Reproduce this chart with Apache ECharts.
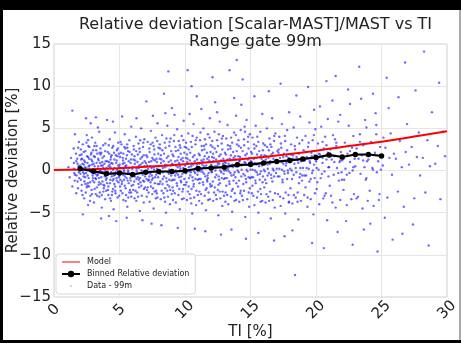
<!DOCTYPE html>
<html>
<head>
<meta charset="utf-8">
<script src="https://cdn.jsdelivr.net/npm/echarts@6/dist/echarts.min.js"></script>
<style>
html,body{margin:0;padding:0;background:#000;width:461px;height:343px;overflow:hidden;}
#c{position:absolute;left:3px;top:10px;width:456px;height:330px;background:#fff;border-right:2px solid #aaa;}
</style>
</head>
<body>
<div id="c"></div>
<script>
var titleText = "Relative deviation [Scalar-MAST]/MAST vs TI\nRange gate 99m";
var xName = "TI [%]";
var yName = "Relative deviation [%]";
var xTicks = [0, 5, 10, 15, 20, 25, 30];
var yTicks = [-15, -10, -5, 0, 5, 10, 15];

var binnedX = [2,3,4,5,6,7,8,9,10,11,12,13,14,15,16,17,18,19,20,21,22,23,24,25];
var binnedY = [0.2,-0.08,-0.4,-0.3,-0.47,-0.2,-0.12,-0.12,-0.04,0.24,0.3,0.4,0.67,0.7,0.9,1.06,1.2,1.37,1.53,1.85,1.6,1.9,1.9,1.73];

var modelX = [0,2,4,6,8,10,12,14,16,18,20,22,24,26,28,30];
var modelY = [0.05,0.11,0.2,0.35,0.52,0.75,1.0,1.3,1.6,1.95,2.35,2.8,3.2,3.65,4.15,4.65];

var scatterPts = [
[1.1,0.4],[1.2,-0.8],[1.3,1.5],[1.4,-1.9],[1.5,0.2],[1.5,2.6],[1.6,-0.5],[1.7,1.1],[1.7,-2.7],[1.8,0.8],[1.8,-1.3],[1.9,3.4],[1.9,-0.2],[1.4,7.1],[1.6,4.3],
[2.0,0.6],[2.05,-1.1],[2.1,1.9],[2.1,-2.4],[2.15,0.1],[2.2,3.1],[2.25,-0.7],[2.3,1.2],[2.3,-3.3],[2.35,0.4],[2.4,-1.6],[2.4,2.3],[2.45,-0.3],[2.5,4.2],[2.5,-2.0],[2.55,0.9],[2.6,-4.1],[2.6,1.6],[2.65,-0.9],[2.7,0.2],[2.7,2.8],[2.75,-1.4],[2.8,5.6],[2.8,-0.1],[2.85,1.3],[2.9,-2.8],[2.9,0.7],[2.95,-0.6],[2.2,-5.2],[2.45,6.2],[2.6,3.6],[2.75,-3.6],[2.3,-0.4],[2.55,-1.8],[2.85,2.1],[2.95,-1.2],[2.15,1.4],[2.65,0.5],[2.05,2.5],[2.9,3.9],
[3.0,-0.3],[3.05,1.7],[3.1,-2.2],[3.1,0.5],[3.15,3.3],[3.2,-1.0],[3.25,0.9],[3.3,-3.0],[3.3,2.0],[3.35,-0.5],[3.4,1.2],[3.4,-1.7],[3.45,4.6],[3.5,0.0],[3.5,-2.6],[3.55,2.6],[3.6,-0.8],[3.6,0.6],[3.65,-4.4],[3.7,1.5],[3.7,-1.3],[3.75,3.0],[3.8,-0.2],[3.8,-2.1],[3.85,0.8],[3.9,2.3],[3.9,-3.4],[3.95,-0.6],[3.2,6.3],[3.6,-5.7],[3.35,5.1],[3.05,-3.8],[3.45,-1.4],[3.75,0.3],[3.15,-0.9],[3.55,1.9],[3.85,-1.8],[3.25,2.9],[3.95,1.1],[3.65,-2.9],
[4.0,0.3],[4.05,-1.5],[4.1,2.2],[4.1,-0.4],[4.15,-2.9],[4.2,1.0],[4.25,3.7],[4.3,-1.1],[4.3,0.4],[4.35,-3.6],[4.4,1.8],[4.4,-0.7],[4.45,2.7],[4.5,-2.2],[4.5,0.1],[4.55,-4.6],[4.6,1.3],[4.6,-1.6],[4.65,4.5],[4.7,-0.2],[4.7,-2.7],[4.75,0.9],[4.8,2.4],[4.8,-1.2],[4.85,-3.2],[4.9,0.6],[4.9,3.3],[4.95,-0.8],[4.2,-5.4],[4.5,5.8],[4.75,-6.0],[4.05,6.0],[4.35,1.6],[4.65,-0.5],[4.85,1.7],[4.15,-1.9],[4.45,-2.5],[4.95,2.0],[4.25,0.7],[4.55,-1.0],
[5.0,-0.6],[5.05,1.6],[5.1,-2.4],[5.1,0.3],[5.15,3.1],[5.2,-1.3],[5.25,0.8],[5.3,-3.5],[5.3,2.0],[5.35,-0.1],[5.4,4.3],[5.4,-1.8],[5.45,0.5],[5.5,-2.9],[5.5,1.4],[5.55,-0.9],[5.6,2.7],[5.6,-4.3],[5.65,0.0],[5.7,1.1],[5.7,-1.5],[5.75,3.6],[5.8,-0.4],[5.8,-2.3],[5.85,0.9],[5.9,5.2],[5.9,-3.1],[5.95,1.9],[5.2,6.4],[5.55,-5.6],[5.35,-1.1],[5.65,2.3],[5.95,-0.7],[5.05,-1.9],[5.45,2.6],[5.75,-2.6],[5.25,1.5],[5.85,-1.2],
[6.0,0.4],[6.05,-1.7],[6.1,2.5],[6.1,-0.5],[6.15,-3.3],[6.2,1.2],[6.25,4.0],[6.3,-1.0],[6.3,0.2],[6.35,-2.6],[6.4,1.9],[6.4,-0.8],[6.45,3.2],[6.5,-2.0],[6.5,0.6],[6.55,-4.8],[6.6,1.4],[6.6,-1.4],[6.65,5.0],[6.7,-0.3],[6.7,-3.0],[6.75,0.9],[6.8,2.8],[6.8,-1.2],[6.85,-3.8],[6.9,0.5],[6.9,3.7],[6.95,-0.7],[6.3,6.2],[6.75,-5.9],[6.45,-1.6],[6.15,1.7],[6.85,1.8],[6.55,2.2],[6.05,-2.3],[6.95,-2.0],
[7.0,-0.2],[7.05,1.8],[7.1,-2.3],[7.1,0.6],[7.15,3.4],[7.2,-1.2],[7.25,1.0],[7.3,-3.7],[7.3,2.2],[7.35,-0.4],[7.4,4.7],[7.4,-1.9],[7.45,0.3],[7.5,-2.8],[7.5,1.5],[7.55,-0.9],[7.6,2.9],[7.6,-4.5],[7.65,0.1],[7.7,1.2],[7.7,-1.5],[7.75,3.9],[7.8,-0.5],[7.8,-2.4],[7.85,1.0],[7.9,5.6],[7.9,-3.2],[7.95,2.0],[7.05,8.2],[7.45,-6.3],[7.25,-1.1],[7.65,2.5],[7.95,-0.8],[7.15,-2.0],[7.55,6.5],[7.85,-2.7],
[8.0,0.5],[8.05,-1.6],[8.1,2.6],[8.1,-0.4],[8.15,-3.4],[8.2,1.3],[8.25,4.2],[8.3,-1.0],[8.3,0.3],[8.35,-2.7],[8.4,2.0],[8.4,-0.7],[8.45,3.3],[8.5,-2.1],[8.5,0.7],[8.55,-5.0],[8.6,1.5],[8.6,-1.3],[8.65,5.3],[8.7,-0.2],[8.7,-3.1],[8.75,1.0],[8.8,2.9],[8.8,-1.1],[8.85,-4.0],[8.9,0.6],[8.9,3.8],[8.95,-0.6],[8.4,9.1],[8.73,11.75],[8.2,-6.5],[8.5,6.8],[8.8,-1.9],[8.15,1.8],[8.65,-2.4],[8.95,2.3],
[9.0,7.4],[9.05,1.9],[9.1,-2.4],[9.1,0.7],[9.15,3.5],[9.2,-1.1],[9.25,1.1],[9.3,-3.8],[9.3,2.3],[9.35,-0.3],[9.4,4.9],[9.4,-1.8],[9.45,0.4],[9.5,-2.9],[9.5,1.6],[9.55,-0.8],[9.6,3.0],[9.6,-4.6],[9.65,0.2],[9.7,1.3],[9.7,-1.4],[9.75,4.1],[9.8,-0.4],[9.8,-2.5],[9.85,1.1],[9.9,5.9],[9.9,-3.3],[9.95,2.1],[9.2,6.6],[9.45,-6.8],[9.25,-0.6],[9.65,2.7],[9.95,-1.0],[9.05,-2.0],[9.55,0.9],[9.85,-2.2],
[10.0,0.6],[10.05,-1.7],[10.1,2.7],[10.1,-0.3],[10.15,-3.5],[10.2,1.4],[10.25,4.4],[10.3,-0.9],[10.3,0.4],[10.35,-2.8],[10.4,2.1],[10.4,-0.6],[10.45,3.4],[10.5,-2.2],[10.5,0.8],[10.55,-5.1],[10.6,1.6],[10.6,-1.2],[10.65,5.5],[10.7,-0.1],[10.7,-3.2],[10.75,1.1],[10.8,3.1],[10.8,-1.0],[10.85,-4.1],[10.9,0.7],[10.9,3.9],[10.95,-0.5],[10.2,11.9],[10.5,10.0],[10.9,8.8],[10.35,6.7],[10.75,-6.9],[10.15,1.9],[10.65,-1.9],[10.45,-0.2],
[11.0,-0.1],[11.05,2.0],[11.1,-2.5],[11.1,0.8],[11.15,3.6],[11.2,-1.0],[11.25,1.2],[11.3,-3.9],[11.3,2.4],[11.35,-0.2],[11.4,5.0],[11.4,-1.7],[11.45,0.5],[11.5,-3.0],[11.5,1.7],[11.55,-0.7],[11.6,3.1],[11.6,-4.7],[11.65,0.3],[11.7,1.4],[11.7,-1.3],[11.75,4.3],[11.8,-0.3],[11.8,-2.6],[11.85,1.2],[11.9,6.2],[11.9,-3.4],[11.95,2.2],[11.25,7.3],[11.55,-7.2],[11.1,-1.5],[11.45,2.9],[11.75,-0.9],[11.95,-1.9],[11.35,1.0],[11.65,-2.1],
[12.0,0.7],[12.05,-1.8],[12.1,11.05],[12.1,2.8],[12.15,-3.6],[12.2,1.5],[12.25,4.6],[12.3,-0.8],[12.3,0.5],[12.35,-2.9],[12.4,2.2],[12.4,-0.5],[12.45,3.6],[12.5,-2.3],[12.5,0.9],[12.55,-5.3],[12.6,1.7],[12.6,-1.1],[12.65,5.8],[12.7,0.0],[12.7,-3.3],[12.75,1.2],[12.8,3.2],[12.8,-0.9],[12.85,-4.2],[12.9,0.8],[12.9,4.1],[12.95,-0.4],[12.3,8.1],[12.75,-7.6],[12.45,6.9],[12.15,2.0],[12.55,-1.7],[12.85,2.5],[12.05,-0.2],[12.65,-2.5],
[13.0,0.0],[13.05,2.1],[13.1,-2.6],[13.1,0.9],[13.15,3.8],[13.2,-0.9],[13.25,1.3],[13.3,-4.0],[13.3,2.5],[13.35,-0.1],[13.4,11.9],[13.4,-1.6],[13.45,0.6],[13.5,-3.1],[13.5,1.8],[13.55,-0.6],[13.6,3.3],[13.6,-4.9],[13.65,0.4],[13.7,1.5],[13.7,-1.2],[13.75,4.5],[13.8,-0.2],[13.8,-2.7],[13.85,1.3],[13.9,6.5],[13.9,-3.5],[13.95,13.1],[13.95,2.3],[13.25,5.4],[13.55,-7.0],[13.75,8.6],[13.15,-1.8],[13.45,2.9],[13.65,-2.2],[13.85,-0.8],
[14.0,0.8],[14.05,-1.9],[14.1,2.9],[14.1,-0.2],[14.15,-3.7],[14.2,1.6],[14.25,4.8],[14.3,-0.7],[14.3,0.6],[14.35,-3.0],[14.4,10.8],[14.4,2.3],[14.45,-0.4],[14.5,3.7],[14.5,-2.4],[14.55,1.0],[14.6,-5.5],[14.6,1.8],[14.65,-1.0],[14.7,6.0],[14.7,0.1],[14.75,-3.4],[14.8,1.3],[14.8,3.4],[14.85,-0.8],[14.9,-4.3],[14.9,0.9],[14.95,4.3],[14.3,7.8],[14.65,-8.1],[14.55,5.2],[14.15,1.1],[14.45,-1.6],[14.85,2.6],[14.95,-2.1],[14.25,-2.4],
[15.0,0.1],[15.05,2.2],[15.1,-2.7],[15.1,1.0],[15.15,3.9],[15.2,-0.8],[15.25,1.4],[15.3,-4.1],[15.3,2.6],[15.35,0.0],[15.4,5.3],[15.4,-1.5],[15.45,0.7],[15.5,-3.2],[15.5,1.9],[15.55,-0.5],[15.6,3.4],[15.6,-5.0],[15.65,0.5],[15.7,1.6],[15.7,-1.1],[15.75,4.6],[15.8,-0.1],[15.8,-2.8],[15.85,1.4],[15.9,6.7],[15.9,-3.6],[15.95,2.4],[15.3,8.8],[15.6,-7.4],[15.15,-1.8],[15.45,2.9],[15.75,-2.2],[15.95,-0.7],
[16.0,0.9],[16.05,-2.0],[16.1,3.0],[16.1,-0.1],[16.15,-3.8],[16.2,1.7],[16.25,5.0],[16.3,-0.6],[16.3,0.7],[16.35,-3.1],[16.4,2.4],[16.4,-0.3],[16.45,3.8],[16.5,-2.5],[16.5,1.1],[16.55,-5.7],[16.6,1.9],[16.6,-0.9],[16.65,6.2],[16.7,0.2],[16.7,-3.5],[16.75,1.4],[16.8,3.5],[16.8,-0.7],[16.85,-4.4],[16.9,1.0],[16.9,4.4],[16.95,-0.3],[16.4,9.4],[16.8,-8.3],[16.2,-1.5],[16.6,2.8],
[17.0,0.2],[17.05,2.3],[17.1,-2.8],[17.1,1.1],[17.2,4.0],[17.2,-0.7],[17.25,1.5],[17.3,-4.2],[17.35,2.7],[17.4,0.1],[17.4,5.5],[17.45,-1.4],[17.5,0.8],[17.5,-3.3],[17.55,2.0],[17.6,-0.4],[17.65,3.5],[17.65,-5.1],[17.7,0.6],[17.75,1.7],[17.8,-1.0],[17.8,4.8],[17.85,0.0],[17.9,-2.9],[17.9,1.5],[17.95,6.9],[17.95,-3.7],[17.3,10.3],[17.6,-7.8],[17.15,2.5],
[18.0,1.0],[18.05,-2.1],[18.1,3.1],[18.15,0.0],[18.2,-3.9],[18.25,1.8],[18.3,5.1],[18.3,-0.5],[18.35,0.8],[18.4,-12.4],[18.4,2.5],[18.45,-3.2],[18.5,-0.2],[18.55,3.9],[18.6,-2.6],[18.6,1.2],[18.65,-5.8],[18.7,2.0],[18.75,-0.8],[18.8,6.4],[18.8,0.3],[18.85,-3.6],[18.9,1.5],[18.95,3.6],[18.5,8.9],[18.2,-7.1],[18.7,-1.5],[18.95,-0.6],
[19.0,0.3],[19.05,2.4],[19.1,-2.9],[19.15,1.2],[19.2,4.1],[19.25,-0.6],[19.3,1.6],[19.35,-4.3],[19.4,2.8],[19.45,0.2],[19.5,5.7],[19.5,-1.3],[19.55,0.9],[19.6,-3.4],[19.65,2.1],[19.7,-0.3],[19.75,3.6],[19.8,-5.2],[19.85,0.7],[19.9,1.8],[19.9,-0.9],[19.95,4.9],[19.4,9.9],[19.7,-8.6],[19.2,-2.0],[19.85,7.2],
[20.0,1.1],[20.05,-2.2],[20.15,3.2],[20.2,0.1],[20.25,-4.0],[20.3,1.9],[20.4,5.2],[20.45,-0.4],[20.5,0.9],[20.55,-3.3],[20.6,2.6],[20.65,-0.1],[20.7,4.0],[20.75,-2.7],[20.8,1.3],[20.85,-5.9],[20.9,2.1],[20.95,-0.7],[20.3,7.6],[20.6,-9.2],[20.8,10.6],[20.1,-1.4],[20.5,3.4],[20.9,6.1],
[21.0,0.4],[21.1,2.5],[21.15,-3.0],[21.2,1.3],[21.3,4.2],[21.35,-0.5],[21.4,1.7],[21.5,-4.4],[21.55,2.9],[21.6,0.3],[21.7,5.8],[21.75,-1.2],[21.8,1.0],[21.85,-3.5],[21.9,2.2],[21.95,-0.2],[21.25,8.3],[21.65,-7.3],[21.45,3.7],[21.85,6.6],[21.05,-1.8],[21.5,11.2],
[22.0,1.2],[22.1,-2.3],[22.2,3.3],[22.25,0.2],[22.35,-4.1],[22.4,2.0],[22.5,5.3],[22.55,-0.3],[22.6,1.0],[22.7,-3.4],[22.75,2.7],[22.8,0.0],[22.85,4.1],[22.9,-2.8],[22.95,1.4],[22.3,-6.0],[22.6,7.9],[22.8,-8.8],[22.45,9.6],[22.15,-1.1],
[23.0,0.5],[23.1,2.6],[23.2,-3.1],[23.25,1.4],[23.35,4.3],[23.4,-0.4],[23.5,1.8],[23.55,-4.5],[23.6,3.0],[23.7,0.4],[23.75,6.0],[23.8,-1.1],[23.9,1.1],[23.95,-3.6],[23.3,12.3],[23.65,-7.0],[23.45,8.5],[23.85,5.1],
[24.0,1.3],[24.1,-2.4],[24.2,3.4],[24.3,0.3],[24.4,-4.2],[24.5,2.1],[24.6,5.4],[24.65,-0.2],[24.75,1.1],[24.8,-3.5],[24.9,2.8],[24.95,0.1],[24.35,9.1],[24.7,-9.6],[24.55,6.8],[24.15,-6.3],
[25.1,0.6],[25.3,2.7],[25.45,-3.2],[25.6,1.5],[25.7,4.4],[25.8,-0.5],[25.95,2.0],[25.25,-5.6],[25.55,7.4],[25.85,-8.2],[25.4,11.0],[25.15,3.9],
[26.1,1.4],[26.25,-2.5],[26.4,3.5],[26.55,0.4],[26.7,-4.3],[26.85,2.2],[26.95,5.5],[26.3,8.7],[26.6,-7.5],[26.8,12.8],
[27.1,0.7],[27.3,2.8],[27.5,-3.3],[27.7,1.6],[27.85,4.5],[27.4,-6.4],[27.6,9.5],[27.95,-0.6],
[28.15,1.5],[28.35,-2.6],[28.5,3.6],[28.7,0.5],[28.85,6.9],[28.25,14.1],[28.6,-8.9],
[29.1,0.8],[29.3,2.9],[29.5,-3.4],[29.7,4.6],[29.85,1.7],[29.4,10.4]
];

var scatterCore = [
[1.52,0.9],[1.58,-1.2],[1.63,0.1],[1.68,2.0],[1.72,-0.6],[1.77,1.4],[1.83,-2.1],[1.87,0.5],[1.92,-0.9],[1.96,1.8],[1.55,-0.3],[1.85,2.7],
[2.02,-0.4],[2.07,1.3],[2.12,-1.7],[2.17,0.8],[2.22,-0.2],[2.27,2.2],[2.32,-1.3],[2.37,1.0],[2.42,-2.6],[2.47,0.3],[2.52,1.7],[2.57,-0.6],[2.62,2.9],[2.67,-1.9],[2.72,0.6],[2.77,-0.1],[2.82,1.9],[2.87,-2.3],[2.92,1.1],[2.97,-0.9],[2.08,0.2],[2.18,-2.9],[2.28,0.7],[2.38,-0.8],[2.48,3.3],[2.58,-1.5],[2.68,1.4],[2.78,-3.0],[2.88,0.0],[2.98,2.4],
[3.02,0.8],[3.07,-1.4],[3.12,1.6],[3.17,-0.4],[3.22,2.4],[3.27,-2.0],[3.32,0.2],[3.37,1.4],[3.42,-0.9],[3.47,-3.1],[3.52,0.9],[3.57,-1.6],[3.62,2.1],[3.67,-0.2],[3.72,0.6],[3.77,-2.5],[3.82,1.7],[3.87,-0.7],[3.92,3.2],[3.97,-1.1],[3.08,2.9],[3.18,-2.8],[3.28,-0.6],[3.38,0.5],[3.48,2.1],[3.58,-0.1],[3.68,1.0],[3.78,-1.7],[3.88,0.1],[3.98,-2.4],
[4.02,-0.9],[4.07,1.1],[4.12,-2.3],[4.17,0.5],[4.22,2.0],[4.27,-1.5],[4.32,1.3],[4.37,-0.2],[4.42,-2.9],[4.47,0.8],[4.52,2.9],[4.57,-0.6],[4.62,0.3],[4.67,-1.9],[4.72,1.8],[4.77,-0.9],[4.82,0.1],[4.87,2.6],[4.92,-1.4],[4.97,0.4],[4.08,-0.1],[4.18,3.0],[4.28,-3.3],[4.38,0.9],[4.48,-1.2],[4.58,2.1],[4.68,-2.4],[4.78,1.2],[4.88,-0.4],[4.98,-3.0],
[5.02,0.7],[5.07,-1.1],[5.12,2.1],[5.17,-0.3],[5.22,-2.7],[5.27,1.2],[5.32,0.1],[5.37,2.8],[5.42,-0.7],[5.47,-2.1],[5.52,0.6],[5.57,1.8],[5.62,-1.2],[5.67,-3.2],[5.72,0.3],[5.77,2.2],[5.82,-0.9],[5.87,1.3],[5.92,-1.8],[5.97,0.2],[5.08,3.4],[5.18,-1.6],[5.28,-0.5],[5.38,0.9],[5.48,-3.6],[5.58,3.1],[5.68,-0.2],[5.88,-2.6],
[6.02,-0.4],[6.07,1.3],[6.12,-1.3],[6.17,0.8],[6.22,-2.4],[6.27,2.3],[6.32,-0.1],[6.37,1.0],[6.42,-3.1],[6.47,0.3],[6.52,2.6],[6.57,-0.9],[6.62,0.7],[6.67,-1.8],[6.72,1.6],[6.77,-0.5],[6.82,3.3],[6.87,-2.2],[6.92,1.1],[6.97,-0.2],[6.08,2.9],[6.18,-0.7],[6.28,-3.6],[6.38,0.4],[6.48,-1.1],[6.58,3.6],[6.68,0.0],[6.88,-1.3],
[7.02,0.9],[7.07,-1.0],[7.12,1.6],[7.17,-0.3],[7.22,-2.6],[7.27,2.6],[7.32,0.5],[7.37,-1.4],[7.42,1.1],[7.47,-0.6],[7.52,3.3],[7.57,-2.1],[7.62,0.4],[7.67,1.9],[7.72,-0.8],[7.77,-3.3],[7.82,1.4],[7.87,0.2],[7.92,-1.6],[7.97,2.7],[7.08,-3.1],[7.18,0.2],[7.28,-0.7],[7.38,3.1],[7.48,-1.1],[7.58,1.3],[7.68,-2.5],[7.88,3.5],
[8.02,-0.3],[8.07,1.4],[8.12,-1.3],[8.17,0.9],[8.22,-2.4],[8.27,2.4],[8.32,-0.2],[8.37,1.1],[8.42,-3.2],[8.47,0.4],[8.52,2.7],[8.57,-0.9],[8.62,0.6],[8.67,-1.7],[8.72,1.7],[8.77,-0.4],[8.82,3.4],[8.87,-2.3],[8.92,1.2],[8.97,-1.2],[8.08,3.1],[8.28,-1.6],[8.48,-3.7],[8.58,3.8],[8.78,0.1],[8.98,-2.8],
[9.02,0.8],[9.07,-1.1],[9.12,1.7],[9.17,-0.2],[9.22,-2.7],[9.27,2.8],[9.32,0.6],[9.37,-1.5],[9.42,1.2],[9.47,-0.5],[9.52,3.5],[9.57,-2.2],[9.62,0.5],[9.67,2.0],[9.72,-0.7],[9.77,-3.4],[9.82,1.5],[9.87,0.3],[9.92,-1.7],[9.97,2.8],[9.08,-3.5],[9.28,0.0],[9.48,2.4],[9.68,-1.2],[9.88,3.6],[9.18,4.2],
[10.02,-0.2],[10.07,1.5],[10.12,-1.4],[10.17,1.0],[10.22,-2.5],[10.27,2.5],[10.32,-0.1],[10.37,1.2],[10.42,-3.3],[10.47,0.5],[10.52,2.8],[10.57,-0.8],[10.62,0.7],[10.67,-1.6],[10.72,1.8],[10.77,-0.3],[10.82,3.6],[10.87,-2.4],[10.92,1.3],[10.97,-1.1],[10.08,3.3],[10.28,-1.9],[10.48,-3.9],[10.58,4.1],[10.78,0.2],[10.98,-2.9],
[11.02,0.9],[11.07,-1.0],[11.12,1.8],[11.17,-0.1],[11.22,-2.8],[11.27,2.9],[11.32,0.7],[11.37,-1.4],[11.42,1.3],[11.47,-0.4],[11.52,3.7],[11.57,-2.3],[11.62,0.6],[11.67,2.1],[11.72,-0.6],[11.77,-3.5],[11.82,1.6],[11.87,0.4],[11.92,-1.6],[11.97,3.0],[11.08,-3.6],[11.28,0.1],[11.48,2.5],[11.68,-1.1],[11.88,3.9],[11.18,4.5],
[12.02,-0.1],[12.07,1.6],[12.12,-1.3],[12.17,1.1],[12.22,-2.6],[12.27,2.6],[12.32,0.0],[12.37,1.3],[12.42,-3.4],[12.47,0.6],[12.52,2.9],[12.57,-0.7],[12.62,0.8],[12.67,-1.5],[12.72,1.9],[12.77,-0.2],[12.82,3.8],[12.87,-2.5],[12.92,1.4],[12.97,-1.0],[12.08,3.5],[12.28,-2.0],[12.58,4.3],[12.98,-3.0],
[13.02,1.0],[13.07,-0.9],[13.12,1.9],[13.17,0.0],[13.22,-2.9],[13.27,3.0],[13.32,0.8],[13.37,-1.3],[13.42,1.4],[13.47,-0.3],[13.52,3.9],[13.57,-2.4],[13.62,0.7],[13.67,2.2],[13.72,-0.5],[13.77,-3.6],[13.82,1.7],[13.87,0.5],[13.92,-1.5],[13.97,3.1],[13.08,-3.7],[13.28,0.2],[13.48,2.6],[13.88,4.2],
[14.02,0.0],[14.07,1.7],[14.12,-1.2],[14.17,1.2],[14.22,-2.7],[14.27,2.7],[14.32,0.1],[14.37,1.4],[14.42,-3.5],[14.47,0.7],[14.52,3.0],[14.57,-0.6],[14.62,0.9],[14.67,-1.4],[14.72,2.0],[14.77,-0.1],[14.82,4.0],[14.87,-2.6],[14.92,1.5],[14.97,-0.9],[14.08,3.6],[14.58,4.6],
[15.02,1.1],[15.07,-0.8],[15.12,2.0],[15.17,0.1],[15.22,-3.0],[15.27,3.1],[15.32,0.9],[15.37,-1.2],[15.42,1.5],[15.47,-0.2],[15.52,4.0],[15.57,-2.5],[15.62,0.8],[15.67,2.3],[15.72,-0.4],[15.77,-3.7],[15.82,1.8],[15.87,0.6],[15.92,-1.4],[15.97,3.2],
[16.02,0.1],[16.07,1.8],[16.12,-1.1],[16.17,1.3],[16.22,-2.8],[16.27,2.8],[16.32,0.2],[16.37,1.5],[16.42,-3.6],[16.47,0.8],[16.52,3.1],[16.57,-0.5],[16.62,1.0],[16.67,-1.3],[16.72,2.1],[16.77,0.0],[16.82,4.1],[16.87,-2.7],
[17.02,1.2],[17.08,-0.7],[17.14,2.1],[17.2,0.2],[17.26,-3.1],[17.32,3.2],[17.38,1.0],[17.44,-1.1],[17.5,1.6],[17.56,-0.1],[17.62,4.1],[17.68,-2.6],[17.74,0.9],[17.8,2.4],[17.86,-0.3],[17.92,-3.8],
[18.03,0.2],[18.1,1.9],[18.17,-1.0],[18.24,1.4],[18.31,-2.9],[18.38,2.9],[18.45,0.3],[18.52,1.6],[18.59,-3.7],[18.66,0.9],[18.73,3.2],[18.8,-0.4],[18.87,1.1],[18.94,-1.2],
[19.04,1.3],[19.12,-0.6],[19.2,2.2],[19.28,0.3],[19.36,-3.2],[19.44,3.3],[19.52,1.1],[19.6,-1.0],[19.68,1.7],[19.76,0.0],[19.84,4.2],[19.92,-2.7],
[20.05,0.3],[20.2,2.0],[20.35,-0.9],[20.5,1.5],[20.65,-3.0],[20.8,3.0],[20.95,0.4],[21.1,1.7],[21.25,-3.8],[21.4,1.0],[21.55,3.3],[21.7,-0.3],[21.85,1.2],[21.98,-1.1],
[22.1,1.4],[22.35,-0.5],[22.6,2.3],[22.85,0.4],[23.1,-3.3],[23.35,3.4],[23.6,1.2],[23.85,-0.9],[24.1,1.8],[24.35,0.1],[24.6,4.3],[24.85,-2.8]
];

var FONT = "DejaVu Sans";
var chart = echarts.init(document.getElementById('c'), null, {renderer: 'canvas'});
var pair = function (xs, ys) { return xs.map(function (x, i) { return [x, ys[i]]; }); };
var fmtMinus = function (v) { return String(v).replace('-', '\u2212'); };

chart.setOption({
  animation: false,
  backgroundColor: '#fff',
  title: {
    text: titleText,
    left: 247.5,
    top: 1,
    textAlign: 'center',
    textStyle: {fontFamily: FONT, fontSize: 16, fontWeight: 'normal', color: '#222', lineHeight: 17}
  },
  grid: {left: 51, top: 34, right: 12, bottom: 43, containLabel: false, outerBoundsMode: 'none', show: true, borderColor: '#d0d0d0', borderWidth: 1},
  xAxis: {
    type: 'value', min: xTicks[0], max: xTicks[xTicks.length - 1], interval: 5,
    name: xName, nameLocation: 'middle', nameGap: 28, nameMoveOverlap: false,
    nameTextStyle: {fontFamily: FONT, fontSize: 15, color: '#222'},
    axisLine: {show: false}, axisTick: {show: false},
    splitLine: {show: true, lineStyle: {color: '#e6e6e6', width: 1}},
    axisLabel: {fontFamily: FONT, fontSize: 15, color: '#222', rotate: 45, align: 'center', verticalAlign: 'middle', margin: 13, hideOverlap: false}
  },
  yAxis: {
    type: 'value', min: yTicks[0], max: yTicks[yTicks.length - 1], interval: 5,
    name: yName, nameLocation: 'middle', nameGap: 33, nameMoveOverlap: false,
    nameTextStyle: {fontFamily: FONT, fontSize: 15, color: '#222'},
    axisLine: {show: false}, axisTick: {show: false},
    splitLine: {show: true, lineStyle: {color: '#e6e6e6', width: 1}},
    axisLabel: {fontFamily: FONT, fontSize: 15, color: '#222', margin: 3, formatter: fmtMinus, hideOverlap: false}
  },
  legend: {
    orient: 'vertical', left: 53, top: 244,
    padding: [4, 6, 4, 5], itemGap: 4, itemWidth: 18, itemHeight: 8,
    backgroundColor: 'rgba(255,255,255,0.85)', borderColor: '#d8d8d8', borderWidth: 1, borderRadius: 3,
    textStyle: {fontFamily: FONT, fontSize: 8, color: '#222', padding: [0, 0, 0, 2]},
    data: [
      {name: 'Model', icon: 'path://M0,3.5 L18,3.5 L18,4.5 L0,4.5 Z M0,0 M18,8'},
      {name: 'Binned Relative deviation'},
      {name: 'Data - 99m', icon: 'path://M0,0 M18,8 M8.2,4 a0.8,0.8 0 1,0 1.6,0 a0.8,0.8 0 1,0 -1.6,0 Z', itemStyle: {color: 'rgba(60,60,255,0.7)'}}
    ]
  },
  series: [
    {
      name: 'Data - 99m', type: 'scatter', data: scatterPts.concat(scatterCore), z: 1,
      symbol: 'circle', symbolSize: 2.4, large: false,
      itemStyle: {color: 'rgba(0,0,255,0.72)'}, silent: true
    },
    {
      name: 'Model', type: 'line', data: pair(modelX, modelY), z: 3,
      showSymbol: false, symbol: 'none', smooth: true,
      lineStyle: {color: '#ff0000', width: 2}, itemStyle: {color: '#ff0000'}
    },
    {
      name: 'Binned Relative deviation', type: 'line', data: pair(binnedX, binnedY), z: 4,
      symbol: 'circle', symbolSize: 5.5, showSymbol: true,
      lineStyle: {color: '#000', width: 2.2}, itemStyle: {color: '#000'}
    }
  ]
});
</script>
</body>
</html>
